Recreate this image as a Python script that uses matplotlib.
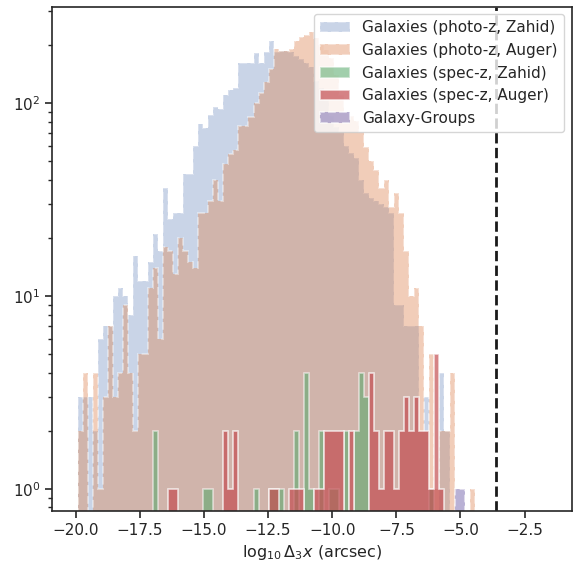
import numpy as np
import matplotlib
matplotlib.use("Agg")
import matplotlib.pyplot as plt
import seaborn as sns

# ---- data (counts per bin) ----
BIN_START = -19.93
BIN_WIDTH = 0.196
N_BINS = 80

photoz_zahid = [3, 3, 3, 2, 6, 7, 7, 10, 11, 10,
                8, 16, 12, 12, 15, 21, 17, 36, 25, 27,
                27, 43, 43, 60, 78, 74, 86, 95, 93, 110,
                116, 119, 160, 160, 160, 181, 160, 184, 209, 184,
                186, 186, 184, 175, 168, 160, 153, 130, 120, 104,
                85, 75, 71, 60, 55, 52, 40, 34, 32, 31,
                30, 29, 27, 9, 9, 7, 7, 7, 2, 3,
                1, 0, 4, 2, 0, 0, 0, 0, 0, 0]

photoz_auger = [2, 4, 0, 4, 1, 3, 7, 3, 4, 9,
                4, 2, 5, 5, 11, 14, 6, 18, 17, 13,
                20, 17, 15, 14, 27, 27, 31, 40, 31, 48,
                54, 57, 76, 76, 84, 100, 112, 128, 150, 190,
                186, 186, 190, 210, 220, 225, 233, 218, 202, 188,
                170, 140, 110, 90, 85, 81, 71, 59, 50, 45,
                36, 40, 29, 34, 27, 17, 10, 11, 7, 2,
                5, 1, 2, 2, 4, 0, 0, 0, 1, 0]

specz_zahid = [0, 0, 0, 0, 0, 0, 0, 0, 0, 0,
               0, 0, 0, 0, 0, 2, 0, 0, 0, 0,
               0, 0, 0, 0, 0, 1, 1, 0, 0, 0,
               0, 0, 0, 0, 0, 1, 0, 0, 1, 1,
               1, 0, 0, 2, 0, 4, 1, 0, 2, 0,
               1, 1, 0, 2, 0, 2, 4, 3, 0, 0,
               0, 0, 0, 0, 0, 0, 0, 0, 0, 0,
               1, 0, 0, 0, 0, 0, 0, 0, 0, 0]

specz_auger = [0, 0, 0, 0, 0, 0, 0, 0, 0, 0,
               0, 0, 0, 0, 0, 0, 0, 0, 1, 1,
               0, 0, 0, 0, 0, 0, 0, 0, 0, 2,
               1, 2, 0, 0, 0, 0, 0, 0, 1, 1,
               0, 0, 1, 1, 1, 0, 0, 1, 1, 2,
               2, 2, 2, 0, 2, 0, 0, 0, 4, 2,
               1, 2, 2, 1, 2, 3, 2, 3, 2, 2,
               1, 5, 1, 0, 0, 0, 0, 0, 0, 0]

galaxy_groups = [0] * 75 + [1, 1] + [0] * 3

labels = ["Galaxies (photo-z, Zahid)", "Galaxies (photo-z, Auger)",
          "Galaxies (spec-z, Zahid)", "Galaxies (spec-z, Auger)",
          "Galaxy-Groups"]
threshold = -3.6

# ---- style ----
sns.set_theme(style="ticks")
plt.rcParams["font.family"] = ["DejaVu Sans"]
pal = sns.color_palette("deep")

edges = BIN_START + BIN_WIDTH * np.arange(N_BINS + 1)
centers = 0.5 * (edges[:-1] + edges[1:])

fig = plt.figure(figsize=(5.75, 5.63), dpi=100)
ax = fig.add_axes([52 / 575, 52.3 / 563, 519.7 / 575, 504 / 563])

ax.hist(centers, bins=edges, weights=photoz_zahid, histtype="stepfilled",
        color=pal[0], edgecolor="white", alpha=0.3, ls="--", lw=1.5,
        log=True, label=labels[0])
ax.hist(centers, bins=edges, weights=photoz_auger, histtype="stepfilled",
        color=pal[1], edgecolor="white", alpha=0.4, ls="--", lw=1.5,
        log=True, label=labels[1])
ax.hist(centers, bins=edges, weights=specz_zahid, histtype="stepfilled",
        color=pal[2], edgecolor="white", alpha=0.55, lw=1.2,
        log=True, label=labels[2])
ax.hist(centers, bins=edges, weights=specz_auger, histtype="stepfilled",
        color=pal[3], edgecolor="white", alpha=0.7, lw=1.2,
        log=True, label=labels[3])
ax.hist(centers, bins=edges, weights=galaxy_groups, histtype="stepfilled",
        color=pal[4], edgecolor="white", alpha=0.55, ls="--", lw=1.5,
        log=True, label=labels[4])

ax.axvline(threshold, color="k", ls="--", lw=2)

ax.set_yscale("log")
ax.set_xlim(-20.93, -0.66)
ax.set_ylim(0.77, 315)
ax.set_xticks([-20, -17.5, -15, -12.5, -10, -7.5, -5, -2.5])
ax.tick_params(axis="both", which="major", labelsize=11, length=5, width=1.2)
ax.tick_params(axis="y", which="minor", length=3, width=1)
for s in ax.spines.values():
    s.set_linewidth(1.2)

ax.set_xlabel(r"$\log_{10}\Delta_3 x$ (arcsec)", fontsize=11.5)
ax.legend(loc="upper right", fontsize=11, framealpha=0.8)

fig.savefig("out.png", dpi=100)
